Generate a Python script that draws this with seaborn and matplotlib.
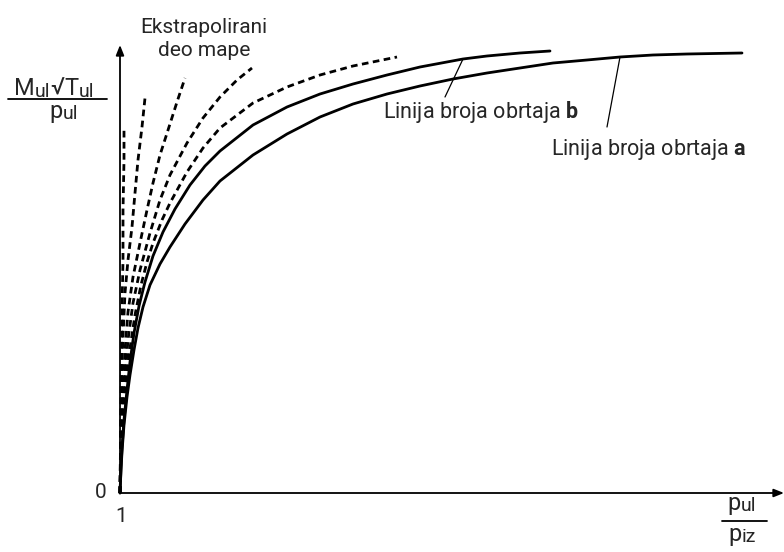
import numpy as np
import pandas as pd
import matplotlib
matplotlib.use("Agg")
import matplotlib.pyplot as plt
from matplotlib.lines import Line2D
import seaborn as sns

# ---- data (schematic compressor map, arbitrary units) ----
# speed line a (solid)
a_x = [1.00, 1.01, 1.02, 1.04, 1.07, 1.10, 1.14, 1.18, 1.23, 1.30, 1.40, 1.50, 1.65, 1.83, 2.00,
       2.33, 2.67, 3.00, 3.33, 3.67, 4.00, 4.33, 4.67, 5.00, 5.33, 5.67, 6.00, 6.33, 6.67, 7.22]
a_y = [0.00, 0.23, 0.41, 0.68, 0.96, 1.18, 1.43, 1.65, 1.86, 2.08, 2.29, 2.46, 2.69, 2.93, 3.12,
       3.38, 3.59, 3.76, 3.89, 3.99, 4.07, 4.14, 4.20, 4.25, 4.30, 4.33, 4.36, 4.38, 4.39, 4.40]
# speed line b (solid)
b_x = [1.00, 1.01, 1.02, 1.04, 1.07, 1.10, 1.14, 1.19, 1.25, 1.33, 1.43, 1.55, 1.70, 1.85, 2.00,
       2.33, 2.67, 3.00, 3.33, 3.67, 4.00, 4.43, 4.67, 5.00, 5.30]
b_y = [0.00, 0.25, 0.45, 0.73, 1.03, 1.31, 1.60, 1.87, 2.11, 2.37, 2.61, 2.84, 3.08, 3.27, 3.42,
       3.68, 3.86, 3.99, 4.09, 4.18, 4.26, 4.34, 4.37, 4.40, 4.42]
# extrapolated part of the map (dashed)
d5_x = [1.00, 1.01, 1.04, 1.10, 1.15, 1.21, 1.27, 1.33, 1.42, 1.50, 1.67, 1.83, 2.00, 2.33, 2.67,
        3.00, 3.33, 3.77]
d5_y = [0.00, 0.43, 0.93, 1.45, 1.78, 2.08, 2.31, 2.50, 2.73, 2.90, 3.21, 3.45, 3.65, 3.90, 4.06,
        4.18, 4.27, 4.36]
d4_x = [1.00, 1.01, 1.04, 1.08, 1.13, 1.20, 1.30, 1.40, 1.50, 1.67, 1.83, 2.00, 2.17, 2.32]
d4_y = [0.00, 0.48, 1.03, 1.53, 1.90, 2.23, 2.60, 2.93, 3.18, 3.50, 3.75, 3.96, 4.13, 4.25]
d3_x = [1.00, 1.01, 1.03, 1.05, 1.08, 1.13, 1.20, 1.27, 1.33, 1.40, 1.49, 1.57, 1.65]
d3_y = [0.00, 0.53, 1.01, 1.43, 1.81, 2.16, 2.50, 2.83, 3.10, 3.38, 3.66, 3.91, 4.15]
d2_x = [1.00, 1.01, 1.02, 1.05, 1.08, 1.12, 1.15, 1.18, 1.22, 1.25]
d2_y = [0.00, 0.73, 1.33, 2.00, 2.33, 2.66, 3.00, 3.33, 3.66, 3.95]
d1_x = [1.00, 1.01, 1.02, 1.03, 1.03, 1.04, 1.04]
d1_y = [0.00, 0.93, 1.83, 2.33, 2.83, 3.33, 3.66]

x_tick_label = "1"
y_tick_label = "0"
label_a = "Linija broja obrtaja $\\mathbf{a}$"
label_b = "Linija broja obrtaja $\\mathbf{b}$"
label_extra = "Ekstrapolirani\ndeo mape"

# ---- style ----
sns.set_theme(style="white")
plt.rcParams["font.family"] = ["Roboto", "DejaVu Sans"]
plt.rcParams["mathtext.fontset"] = "custom"
plt.rcParams["mathtext.rm"] = "Roboto"
plt.rcParams["mathtext.it"] = "Roboto"
plt.rcParams["mathtext.bf"] = "Roboto:bold"

W, H = 784, 552
fig = plt.figure(figsize=(W / 100, H / 100), dpi=100)
ax = fig.add_axes([0, 0, 1, 1])
ax.set_xlim(-0.20, 7.64)
ax.set_ylim(-0.59, 4.93)
ax.axis("off")


def px(x, y):
    return (x / W, 1 - y / H)


solid_kw = dict(color="black", lw=2.0, estimator=None, sort=False, legend=False)
dash_kw = dict(color="black", lw=2.0, estimator=None, sort=False, legend=False,
               linestyle=(0, (2.4, 1.6)))

for xs, ys in [(d1_x, d1_y), (d2_x, d2_y), (d3_x, d3_y), (d4_x, d4_y), (d5_x, d5_y)]:
    sns.lineplot(x=xs, y=ys, ax=ax, **dash_kw)
sns.lineplot(x=b_x, y=b_y, ax=ax, **solid_kw)
sns.lineplot(x=a_x, y=a_y, ax=ax, **solid_kw)

# axes with arrows
arrow = dict(arrowstyle="-|>,head_length=0.5,head_width=0.2", color="black", lw=1.3,
             shrinkA=0, shrinkB=0)
ax.annotate("", xy=(1.0, 4.48), xytext=(1.0, 0.0), arrowprops=arrow)
ax.annotate("", xy=(7.64, 0.0), xytext=(1.0, 0.0), arrowprops=arrow)

# leader lines
lead = dict(arrowstyle="-", color="black", lw=0.9, shrinkA=0, shrinkB=0)
ax.annotate("", xy=(b_x[21], b_y[21]), xytext=px(445, 97), textcoords="figure fraction", arrowprops=lead)
ax.annotate("", xy=(a_x[26], a_y[26]), xytext=px(607, 127), textcoords="figure fraction", arrowprops=lead)

# labels
fig.text(*px(383, 112), label_b, fontsize=15.5, ha="left", va="center")
fig.text(*px(551, 149), label_a, fontsize=15.5, ha="left", va="center")
fig.text(*px(204, 39), label_extra, fontsize=15, ha="center", va="center", linespacing=1.25)
fig.text(*px(106, 493), y_tick_label, fontsize=15, ha="right", va="center")
fig.text(*px(121, 516), x_tick_label, fontsize=15, ha="center", va="center")

renderer = fig.canvas.get_renderer()


def pieces(cx, base, parts):
    """Draw text pieces (text, size, drop_px) side by side, centred at cx, baseline at base."""
    arts = []
    for s, fs, dy in parts:
        t = fig.text(0, 0, s, fontsize=fs, ha="left", va="baseline")
        arts.append((t, dy))
    widths = [t.get_window_extent(renderer).width for t, _ in arts]
    x = cx - sum(widths) / 2
    for (t, dy), w in zip(arts, widths):
        t.set_position(px(x, base + dy))
        x += w


BIG, SUB = 17, 14
# y axis label (fraction)
pieces(54, 95, [("M", BIG, 0), ("ul", SUB, 2), ("\u221a", BIG, 0), ("T", BIG, 0), ("ul", SUB, 2)])
fig.add_artist(Line2D([8 / W, 107 / W], [1 - 99 / H, 1 - 99 / H], color="black", lw=1.3))
pieces(64, 118, [("p", BIG, 0), ("ul", SUB, 1)])

# x axis label (fraction)
pieces(742, 510, [("p", BIG, 0), ("ul", SUB, 1)])
fig.add_artist(Line2D([722 / W, 767 / W], [1 - 521 / H, 1 - 521 / H], color="black", lw=1.3))
pieces(742, 541, [("p", BIG, 0), ("iz", SUB, 1)])

fig.savefig("out.png", dpi=100)
